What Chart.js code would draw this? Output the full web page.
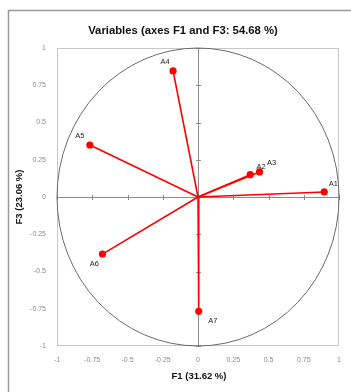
<!DOCTYPE html>
<html><head><meta charset="utf-8">
<script src="https://cdn.jsdelivr.net/npm/chart.js@4"></script>
<style>html,body{margin:0;padding:0;background:#fff}#wrap{width:351px;height:392px}</style>
</head><body><div id="wrap"><canvas id="c" width="351" height="392"></canvas></div>
<script>
const variables = ["A1","A2","A3","A4","A5","A6","A7"];
const f1Values = [0.895, 0.370, 0.436, -0.177, -0.767, -0.678, 0.005];
const f3Values = [0.034, 0.150, 0.168, 0.846, 0.349, -0.383, -0.767];
const tickValues = [-1,-0.75,-0.5,-0.25,0,0.25,0.5,0.75,1];
const tickLabels = ["-1","-0.75","-0.5","-0.25","0","0.25","0.5","0.75","1"];
const titleText = "Variables (axes F1 and F3: 54.68 %)";
const xTitle = "F1 (31.62 %)";
const yTitle = "F3 (23.06 %)";
const labelOffsets = [[9,-8],[11,-8],[12,-9],[-8,-9],[-10,-9],[-8,10],[14,10]];

const datasets = variables.map((v,i)=>({
  label: v,
  data: [{x:0,y:0},{x:f1Values[i],y:f3Values[i]}],
  showLine: true,
  borderColor: '#ff0000',
  backgroundColor: '#ff0000',
  borderWidth: 1.6,
  pointRadius: [0,2.8],
  pointHoverRadius: [0,2.8]
}));

function tickCb(val){ const k = tickValues.findIndex(t=>Math.abs(t-val)<1e-9); return k>=0?tickLabels[k]:''; }

const decor = {
  id:'decor',
  beforeDatasetsDraw(chart){
    const {ctx, chartArea:a, scales:{x,y}} = chart;
    ctx.save();
    // outer frame
    ctx.strokeStyle='#9a9a9a'; ctx.lineWidth=1.5;
    ctx.beginPath(); ctx.moveTo(8.5,400); ctx.lineTo(8.5,10.5); ctx.lineTo(360,10.5); ctx.stroke();
    // plot border
    ctx.strokeStyle='#c8c8c8'; ctx.lineWidth=1;
    ctx.strokeRect(a.left+0.5,a.top+0.5,a.right-a.left-1,a.bottom-a.top-1);
    // zero axes
    const x0=x.getPixelForValue(0), y0=y.getPixelForValue(0);
    ctx.strokeStyle='#8c8c8c'; ctx.lineWidth=1;
    ctx.beginPath(); ctx.moveTo(a.left,Math.round(y0)+0.5); ctx.lineTo(a.right,Math.round(y0)+0.5);
    ctx.moveTo(Math.round(x0)+0.5,a.top); ctx.lineTo(Math.round(x0)+0.5,a.bottom); ctx.stroke();
    ctx.beginPath();
    tickValues.forEach(t=>{
      const px=Math.round(x.getPixelForValue(t))+0.5, py=Math.round(y.getPixelForValue(t))+0.5;
      ctx.moveTo(px,y0-2); ctx.lineTo(px,y0+3);
      ctx.moveTo(x0-2,py); ctx.lineTo(x0+3,py);
    });
    ctx.stroke();
    // correlation circle
    const rx=x.getPixelForValue(1)-x0, ry=y0-y.getPixelForValue(1);
    ctx.strokeStyle='#6a6a6a'; ctx.lineWidth=1;
    ctx.beginPath(); ctx.ellipse(x0,y0,rx,ry,0,0,Math.PI*2); ctx.stroke();
    ctx.restore();
  },
  afterDatasetsDraw(chart){
    const {ctx, chartArea:a, scales:{x,y}} = chart;
    ctx.save();
    ctx.fillStyle='#222'; ctx.textAlign='center'; ctx.textBaseline='middle';
    ctx.font='7.5px "Liberation Sans", Arial, sans-serif';
    variables.forEach((v,i)=>{
      ctx.fillText(v, x.getPixelForValue(f1Values[i])+labelOffsets[i][0], y.getPixelForValue(f3Values[i])+labelOffsets[i][1]);
    });
    ctx.fillStyle='#111';
    ctx.font='bold 11.3px "Liberation Sans", Arial, sans-serif';
    ctx.fillText(titleText, 183, 31);
    ctx.font='bold 9.5px "Liberation Sans", Arial, sans-serif';
    ctx.fillText(xTitle, (a.left+a.right)/2+1, 376);
    ctx.translate(19,(a.top+a.bottom)/2);
    ctx.rotate(-Math.PI/2);
    ctx.fillText(yTitle,0,0);
    ctx.restore();
  }
};

new Chart(document.getElementById('c'),{
  type:'scatter',
  data:{datasets},
  options:{
    responsive:false, animation:false, events:[],
    layout:{padding:{left:0,right:11,top:48,bottom:0}},
    plugins:{legend:{display:false},tooltip:{enabled:false},title:{display:false}},
    scales:{
      x:{type:'linear',min:-1,max:1,
        afterBuildTicks(s){ s.ticks = tickValues.map(v=>({value:v})); },
        afterFit(s){ s.height=46; },
        grid:{display:false,drawTicks:false}, border:{display:false},
        ticks:{callback:tickCb,color:'#8a8a8a',font:{size:7,family:'"Liberation Sans", Arial, sans-serif'},padding:10,maxRotation:0,autoSkip:false}
      },
      y:{type:'linear',min:-1,max:1,
        afterBuildTicks(s){ s.ticks = tickValues.map(v=>({value:v})); },
        afterFit(s){ s.width=57; },
        grid:{display:false,drawTicks:false}, border:{display:false},
        ticks:{callback:tickCb,color:'#8a8a8a',font:{size:7,family:'"Liberation Sans", Arial, sans-serif'},padding:11,autoSkip:false}
      }
    }
  },
  plugins:[decor]
});
</script></body></html>
